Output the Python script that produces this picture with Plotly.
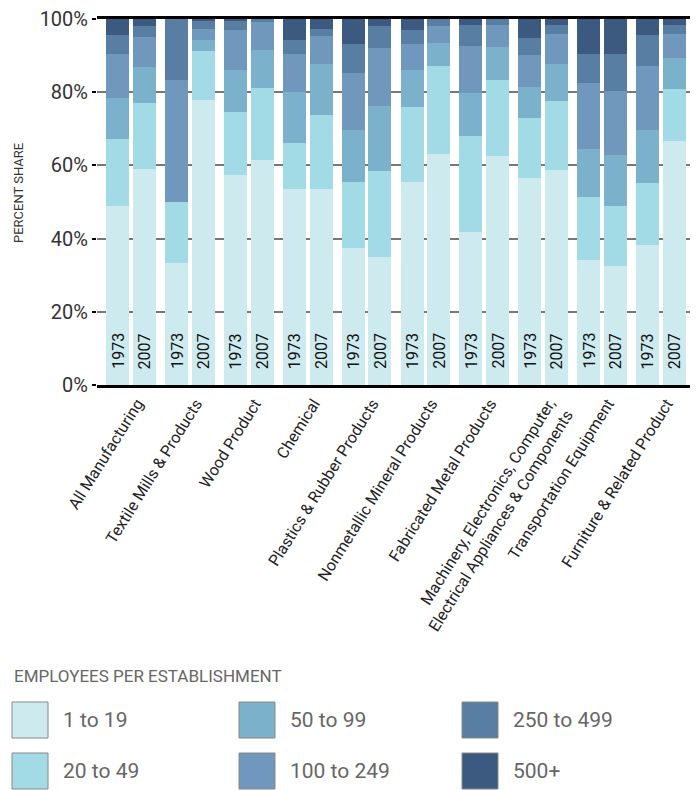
import plotly.graph_objects as go

categories = ["All Manufacturing", "Textile Mills & Products", "Wood Product", "Chemical",
              "Plastics & Rubber Products", "Nonmetallic Mineral Products",
              "Fabricated Metal Products",
              "Machinery, Electronics, Computer,<br>Electrical Appliances & Components",
              "Transportation Equipment", "Furniture & Related Product"]
years = ["1973", "2007"]

size_classes = ["1 to 19", "20 to 49", "50 to 99", "100 to 249", "250 to 499", "500+"]
colors = ["#cdeaee", "#a2dbe5", "#7bb1cb", "#7098bd", "#587fa3", "#3c5a80"]

# values ordered: category0-1973, category0-2007, category1-1973, ...
s_1_19 = [48.9, 59.0, 33.3, 77.8, 57.3, 61.4, 53.5, 53.5, 37.4, 34.9,
          55.4, 63.1, 41.8, 62.5, 56.5, 58.7, 34.1, 32.5, 38.2, 66.6]
s_20_49 = [18.3, 18.0, 16.7, 13.4, 17.2, 19.7, 12.6, 20.2, 18.0, 23.5,
           20.5, 24.0, 26.2, 20.8, 16.4, 18.9, 17.2, 16.4, 17.0, 14.3]
s_50_99 = [11.2, 9.9, 0.0, 3.0, 11.5, 10.4, 13.9, 14.0, 14.2, 17.8,
           10.1, 6.3, 11.7, 9.0, 8.5, 10.1, 13.1, 13.9, 14.4, 8.4]
s_100_249 = [12.0, 8.2, 33.3, 3.0, 11.0, 7.7, 10.4, 7.6, 15.6, 15.8,
             7.1, 4.7, 12.9, 6.0, 8.7, 8.2, 18.1, 17.5, 17.5, 6.6]
s_250_499 = [5.2, 3.0, 16.7, 2.3, 2.5, 0.8, 3.8, 1.9, 7.9, 6.1,
             3.9, 1.9, 5.7, 1.7, 4.7, 2.4, 7.9, 10.1, 8.5, 2.4]
s_500p = [4.4, 1.9, 0.0, 0.5, 0.5, 0.0, 5.8, 2.8, 6.9, 1.9,
          3.0, 0.0, 1.7, 0.0, 5.2, 1.7, 9.6, 9.6, 4.4, 1.7]
series = [s_1_19, s_20_49, s_50_99, s_100_249, s_250_499, s_500p]

ytick_vals = [0, 20, 40, 60, 80, 100]
ytick_text = ["0%", "20%", "40%", "60%", "80%", "100%"]
y_title = "PERCENT SHARE"
legend_title = "EMPLOYEES PER ESTABLISHMENT"

FONT = "Roboto, sans-serif"

W, H = 698, 790
OFF = 8  # page body margin
ML, MR, MT, MB = 89, 14, 11, 413
PW, PH = W - ML - MR, H - MT - MB

def px_x(x):
    return (x - OFF - ML) / PW

def px_y(y):
    return (H - MB - (y - OFF)) / PH

year_offset = {"1973": -0.227, "2007": 0.227}
xpos = []
year_labels = []
for i, _ in enumerate(categories):
    for yr in years:
        xpos.append(i + year_offset[yr])
        year_labels.append(yr)

fig = go.Figure()
for name, col, vals in zip(size_classes, colors, series):
    fig.add_trace(go.Bar(x=xpos, y=vals, name=name, width=0.39,
                         marker=dict(color=col, line=dict(width=0)),
                         showlegend=False, hoverinfo="skip"))

annotations = []
for xp, yl in zip(xpos, year_labels):
    annotations.append(dict(x=xp, y=0, xref="x", yref="y", text=yl, showarrow=False,
                            textangle=-90, xanchor="center", yanchor="bottom", yshift=14,
                            font=dict(family=FONT, size=16, color="#111")))

# y-axis title
annotations.append(dict(x=px_x(18), y=px_y(193), xref="paper", yref="paper",
                        text=y_title, showarrow=False, textangle=-90,
                        xanchor="center", yanchor="middle",
                        font=dict(family=FONT, size=13, color="#333")))

# legend (manual)
annotations.append(dict(x=px_x(12), y=px_y(676), xref="paper", yref="paper",
                        text=legend_title, showarrow=False,
                        xanchor="left", yanchor="middle",
                        font=dict(family=FONT, size=17, color="#666")))
shapes = []
col_x = [12, 239, 462]
row_y = [720, 771]
for k, (name, col) in enumerate(zip(size_classes, colors)):
    c, r = k // 2, k % 2
    x0 = col_x[c]
    yc = row_y[r]
    shapes.append(dict(type="rect", xref="paper", yref="paper",
                       x0=px_x(x0), x1=px_x(x0 + 36), y0=px_y(yc - 18), y1=px_y(yc + 18),
                       fillcolor=col, line=dict(color="#888", width=1)))
    annotations.append(dict(x=px_x(x0 + 49), y=px_y(yc), xref="paper", yref="paper",
                            text=name, showarrow=False, xanchor="left", yanchor="middle",
                            font=dict(family=FONT, size=21, color="#666")))

fig.update_layout(
    width=W, height=H, barmode="stack", bargap=0,
    margin=dict(l=ML, r=MR, t=MT, b=MB, autoexpand=False),
    plot_bgcolor="white", paper_bgcolor="white",
    font=dict(family=FONT, color="#222"),
    annotations=annotations, shapes=shapes,
    xaxis=dict(range=[-0.58, 9.53], tickmode="array", tickvals=list(range(len(categories))),
               ticktext=categories, tickangle=-58, showgrid=False, showline=True,
               mirror=True, linecolor="black", linewidth=3, ticks="", automargin=False,
               ticklabelshift=6,
               tickfont=dict(family=FONT, size=16, color="#222"), zeroline=False),
    yaxis=dict(range=[0, 100], tickmode="array", tickvals=ytick_vals, ticktext=ytick_text,
               showgrid=True, gridcolor="#777", gridwidth=1.5, zeroline=False,
               ticks="outside", ticklen=4, tickcolor="black", tickwidth=1.5, automargin=False,
               ticklabeloverflow="allow",
               tickfont=dict(family=FONT, size=20, color="#333")),
)

fig.write_html("out.html")
